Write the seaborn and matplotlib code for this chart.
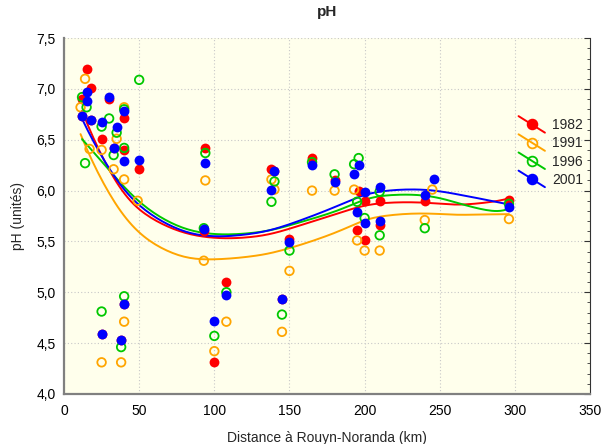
import numpy as np
import pandas as pd
import matplotlib
matplotlib.use("Agg")
import matplotlib.pyplot as plt
from matplotlib.lines import Line2D
from matplotlib.legend_handler import HandlerBase
from matplotlib.ticker import MultipleLocator, FuncFormatter
import seaborn as sns

# Data: distance (km) and pH per survey year
# (some 1982 points sit underneath the 2001 markers)
dist_1982 = [15, 18, 12, 30, 40, 25, 40, 50, 94, 108, 100, 138, 150, 165, 180,
             196, 200, 195, 200, 210, 210, 240, 296, 25, 38, 40, 93, 145, 33, 12, 18, 140]
ph_1982 = [7.20, 7.01, 6.90, 6.90, 6.71, 6.51, 6.40, 6.21, 6.42, 5.10, 4.31, 6.21, 5.52, 6.32, 6.10,
           6.00, 5.90, 5.61, 5.51, 5.90, 5.66, 5.90, 5.91, 4.59, 4.53, 4.88, 5.60, 4.93, 6.42, 6.73, 6.69, 6.19]

dist_1991 = [14, 11, 17, 25, 35, 33, 40, 49, 40, 25, 38, 40, 94, 93, 100, 108, 138,
             140, 145, 150, 165, 180, 193, 195, 200, 210, 240, 245, 296]
ph_1991 = [7.10, 6.82, 6.41, 6.40, 6.51, 6.21, 6.11, 5.90, 6.82, 4.31, 4.31, 4.71, 6.10, 5.31, 4.42, 4.71, 6.11,
           6.01, 4.61, 5.21, 6.00, 6.00, 6.01, 5.51, 5.41, 5.41, 5.71, 6.01, 5.72]

dist_1996 = [12, 15, 14, 25, 30, 35, 33, 40, 40, 50, 25, 40, 38, 94, 93, 100, 108, 138,
             140, 145, 150, 165, 180, 196, 193, 195, 200, 210, 210, 240, 296]
ph_1996 = [6.92, 6.82, 6.27, 6.63, 6.71, 6.57, 6.35, 6.80, 6.42, 7.09, 4.81, 4.96, 4.46, 6.37, 5.63, 4.57, 5.00, 5.89,
           6.09, 4.78, 5.41, 6.28, 6.16, 6.32, 6.26, 5.89, 5.73, 5.99, 5.56, 5.63, 5.87]

dist_2001 = [15, 15, 12, 18, 25, 30, 35, 33, 40, 40, 50, 25, 38, 40, 94, 93, 100, 108, 138,
             140, 145, 150, 165, 180, 196, 193, 200, 195, 200, 210, 210, 240, 246, 296]
ph_2001 = [6.97, 6.88, 6.73, 6.69, 6.68, 6.92, 6.63, 6.42, 6.78, 6.29, 6.30, 4.59, 4.53, 4.88, 6.27, 5.62, 4.72, 4.97, 6.01,
           6.19, 4.93, 5.49, 6.25, 6.08, 6.25, 6.16, 5.99, 5.79, 5.68, 6.04, 5.70, 5.96, 6.11, 5.84]

years = ["1982", "1991", "1996", "2001"]
colors = {"1982": "#ff0000", "1991": "#ffa500", "1996": "#00c800", "2001": "#0000ff"}
filled = {"1982": True, "1991": False, "1996": False, "2001": True}

df = pd.concat([
    pd.DataFrame({"dist": dist_1982, "ph": ph_1982, "year": "1982"}),
    pd.DataFrame({"dist": dist_1991, "ph": ph_1991, "year": "1991"}),
    pd.DataFrame({"dist": dist_1996, "ph": ph_1996, "year": "1996"}),
    pd.DataFrame({"dist": dist_2001, "ph": ph_2001, "year": "2001"}),
])


def smooth(x, y, h=170.0):
    # local quadratic fit with tricube weights of fixed width (distance weighted LS)
    x = np.asarray(x, float)
    y = np.asarray(y, float)
    grid = np.linspace(x.min(), x.max(), 150)
    fit = []
    for g in grid:
        d = np.abs(x - g)
        w = np.sqrt(np.clip(1 - (d / h) ** 3, 0, None) ** 3)
        X = np.vander(x - g, 3)
        b = np.linalg.lstsq(X * w[:, None], y * w, rcond=None)[0]
        fit.append(b[-1])
    return pd.DataFrame({"dist": grid, "ph": fit})


class DiagHandler(HandlerBase):
    # legend key: a short diagonal line with the marker in the middle
    def create_artists(self, legend, orig, xd, yd, width, height, fontsize, trans):
        c = orig.get_color()
        line = Line2D([-xd, -xd + width], [height * 1.35 - yd, -height * 0.35 - yd],
                      color=c, lw=1.4, transform=trans)
        mark = Line2D([-xd + width / 2], [height / 2 - yd], marker="o", markersize=7,
                      markerfacecolor=orig.get_markerfacecolor(), markeredgecolor=c,
                      markeredgewidth=1.3, lw=0, transform=trans)
        return [line, mark]


sns.set_style("white")
plt.rcParams["font.family"] = ["Liberation Sans", "DejaVu Sans"]

fig = plt.figure(figsize=(6.04, 4.44), dpi=100)
ax = fig.add_axes([0.106, 0.113, 0.871, 0.801])
ax.set_facecolor("#ffffec")

# points
for yr in years:
    d = df[df["year"] == yr]
    c = colors[yr]
    if filled[yr]:
        sns.scatterplot(data=d, x="dist", y="ph", ax=ax, color=c, s=50,
                        linewidth=0, zorder=3)
    else:
        sns.scatterplot(data=d, x="dist", y="ph", ax=ax, color=c, s=38,
                        facecolors="none", edgecolor=c, linewidth=1.3, zorder=3)

# fitted curves
for yr in years:
    d = df[df["year"] == yr]
    sns.lineplot(data=smooth(d["dist"], d["ph"]), x="dist", y="ph", ax=ax,
                 color=colors[yr], lw=1.4, zorder=2)

ax.set_xlim(0, 350)
ax.set_ylim(4.0, 7.5)
ax.xaxis.set_major_locator(MultipleLocator(50))
ax.xaxis.set_minor_locator(MultipleLocator(10))
ax.yaxis.set_major_locator(MultipleLocator(0.5))
ax.yaxis.set_minor_locator(MultipleLocator(0.1))
ax.yaxis.set_major_formatter(FuncFormatter(lambda v, p: f"{v:.1f}".replace(".", ",")))
ax.grid(True, which="major", color="#c8c8c8", linestyle=(0, (1, 2)), lw=0.8)
ax.tick_params(which="both", direction="in", labelsize=10, colors="#333333",
               right=True, labelcolor="black")
ax.tick_params(axis="x", which="major", length=4, pad=7)
ax.tick_params(axis="y", which="major", length=4, pad=6)
ax.tick_params(which="minor", length=2.5)
for side in ["left", "bottom"]:
    ax.spines[side].set_color("#808080")
    ax.spines[side].set_linewidth(1.6)
ax.spines["right"].set_color("#333333")
ax.spines["right"].set_linewidth(0.8)
ax.spines["top"].set_visible(False)

ax.set_title("pH", fontsize=11, fontweight="bold", pad=16)
ax.set_xlabel("Distance à Rouyn-Noranda (km)", fontsize=10, labelpad=10)
ax.set_ylabel("pH (unités)", fontsize=10, labelpad=8)

handles = []
for yr in years:
    c = colors[yr]
    handles.append(Line2D([0], [0], color=c, lw=1.4, marker="o",
                          markerfacecolor=c if filled[yr] else "none",
                          markeredgecolor=c))
ax.legend(handles, years, loc="upper right", bbox_to_anchor=(1.01, 0.81),
          frameon=False, fontsize=10, handlelength=1.9, handletextpad=0.5,
          labelspacing=0.3, handler_map={Line2D: DiagHandler()})

fig.savefig("out.png", dpi=100)
